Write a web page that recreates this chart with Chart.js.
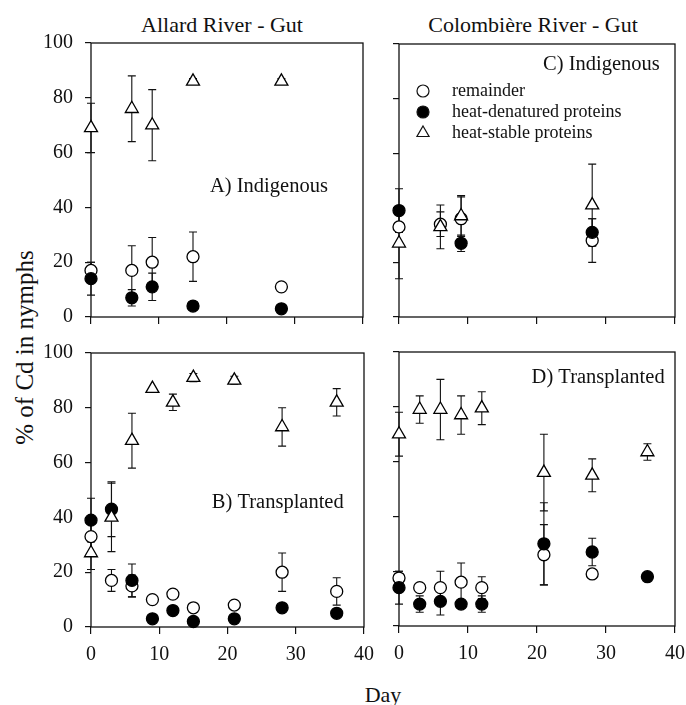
<!DOCTYPE html>
<html lang="en">

<head>
  <meta charset="UTF-8">
  <title>Cd in nymph gut</title>
  <script src="https://cdn.jsdelivr.net/npm/chart.js"></script>
  <style>
    body { margin: 0; background: #fff; overflow: hidden; }
    .page { position: relative; width: 686px; height: 705px; font-family: 'Liberation Serif', 'Times New Roman', serif; color: #111; }
    .page canvas { position: absolute; }
    .title { position: absolute; width: 300px; text-align: center; font-size: 22px; line-height: 22px; white-space: nowrap; }
    .ytitle { position: absolute; width: 300px; text-align: center; font-size: 25px; line-height: 25px; white-space: nowrap; transform: rotate(-90deg); }
  </style>
</head>

<body>
  <div class="page" id="page">
    <div class="title" style="left:72px; top:14px;">Allard River - Gut</div>
    <div class="title" style="left:383px; top:14px;">Colombière River - Gut</div>
    <div class="title" style="left:233px; top:684px;">Day</div>
    <div class="ytitle" style="left:-126px; top:335px;">% of Cd in nymphs</div>
  </div>

  <script>
    // Allard River, indigenous
    const allardIndDays = [0, 6, 9, 15, 28];
    const allardIndRemainder = [17, 17, 20, 22, 11];
    const allardIndRemainderErr = [3, 9, 9, 9, 0];
    const allardIndDenatured = [14, 7, 11, 4, 3];
    const allardIndDenaturedErr = [6, 3, 5, 0, 0];
    const allardIndStable = [69, 76, 70, 86, 86];
    const allardIndStableErr = [9, 12, 13, 1, 1];

    // Allard River, transplanted
    const allardTrDays = [0, 3, 6, 9, 12, 15, 21, 28, 36];
    const allardTrRemainder = [33, 17, 15, 10, 12, 7, 8, 20, 13];
    const allardTrRemainderErr = [6, 4, 4, 0, 0, 0, 0, 7, 5];
    const allardTrDenatured = [39, 43, 17, 3, 6, 2, 3, 7, 5];
    const allardTrDenaturedErr = [8, 10, 6, 0, 0, 0, 0, 0, 0];
    const allardTrStable = [27, 40, 68, 87, 82, 91, 90, 73, 82];
    const allardTrStableErr = [6, 12.5, 10, 0, 3, 1.5, 1.5, 7, 5];

    // Colombière River, indigenous
    const colomIndDays = [0, 6, 9, 28];
    const colomIndRemainder = [33, 34, 36, 28];
    const colomIndRemainderErr = [0, 4.5, 8, 8];
    const colomIndDenatured = [39, null, 27, 31];
    const colomIndDenaturedErr = [8, 0, 3, 5];
    const colomIndStable = [27, 33, 37, 41];
    const colomIndStableErr = [13, 8, 7.5, 15];

    // Colombière River, transplanted
    const colomTrDays = [0, 3, 6, 9, 12, 21, 28, 36];
    const colomTrRemainder = [17.5, 14, 14, 16, 14, 26, 19, null];
    const colomTrRemainderErr = [2.5, 0, 6, 7, 4, 11, 0, 0];
    const colomTrDenatured = [14, 8, 9, 8, 8, 30, 27, 18];
    const colomTrDenaturedErr = [6, 3, 5, 0, 3, 15, 5, 0];
    const colomTrStable = [70, 79, 79, 77, 79.5, 56, 55, 63.5];
    const colomTrStableErr = [8, 5, 11, 7, 6, 14, 6, 3];

    const legendLabels = ['remainder', 'heat-denatured proteins', 'heat-stable proteins'];

    const FONT = '"Liberation Serif", "Times New Roman", serif';
    const INK = '#111';
    Chart.defaults.font.family = FONT;
    Chart.defaults.font.size = 20;
    Chart.defaults.color = INK;

    function drawMarker(ctx, style, fill, r, x, y) {
      ctx.beginPath();
      if (style === 'triangle') {
        ctx.moveTo(x, y - r);
        ctx.lineTo(x + r * Math.sin(Math.PI / 3), y + r / 2);
        ctx.lineTo(x - r * Math.sin(Math.PI / 3), y + r / 2);
        ctx.closePath();
      } else {
        ctx.arc(x, y, r, 0, Math.PI * 2);
      }
      ctx.fillStyle = fill;
      ctx.fill();
      ctx.stroke();
    }

    // frame, error bars, panel label and legend
    const panelDecor = {
      id: 'panelDecor',
      beforeDatasetsDraw(chart, args, opts) {
        const { ctx, chartArea: a, scales: { x, y } } = chart;
        ctx.save();
        ctx.strokeStyle = INK;
        ctx.lineWidth = 1.3;
        ctx.strokeRect(a.left, a.top, a.right - a.left, a.bottom - a.top);

        ctx.lineWidth = 1.1;
        chart.data.datasets.forEach(ds => {
          ds.data.forEach((p, i) => {
            const e = ds.errors[i];
            if (p.y == null || !e) return;
            const px = x.getPixelForValue(p.x);
            const top = y.getPixelForValue(p.y + e);
            const bot = y.getPixelForValue(p.y - e);
            ctx.beginPath();
            ctx.moveTo(px, top); ctx.lineTo(px, bot);
            ctx.moveTo(px - 4, top); ctx.lineTo(px + 4, top);
            ctx.moveTo(px - 4, bot); ctx.lineTo(px + 4, bot);
            ctx.stroke();
          });
        });

        ctx.fillStyle = INK;
        ctx.font = '20.5px ' + FONT;
        ctx.textAlign = opts.align;
        ctx.textBaseline = 'alphabetic';
        ctx.fillText(opts.label, x.getPixelForValue(opts.at[0]), y.getPixelForValue(opts.at[1]));

        if (opts.legend) {
          const styles = [['circle', '#fff', 6], ['circle', '#000', 6], ['triangle', '#fff', 7]];
          ctx.font = '18px ' + FONT;
          ctx.textAlign = 'left';
          ctx.textBaseline = 'middle';
          ctx.lineWidth = 1.2;
          legendLabels.forEach((txt, i) => {
            const ry = a.top + 47 + i * 21;
            drawMarker(ctx, styles[i][0], styles[i][1], styles[i][2], a.left + 24, ry);
            ctx.fillStyle = INK;
            ctx.fillText(txt, a.left + 53, ry);
          });
        }
        ctx.restore();
      }
    };

    function series(days, values, errors, style, fill, radius) {
      return {
        data: days.map((d, i) => ({ x: d, y: values[i] })),
        errors: errors,
        pointStyle: style,
        pointRadius: radius,
        pointBackgroundColor: fill,
        pointBorderColor: '#000',
        pointBorderWidth: 1.3,
        clip: false
      };
    }

    function createPanel(p) {
      const [l, t, r, b] = p.area;
      const yW = p.yLabels ? 91 : 14;
      const xH = p.xLabels ? 44 : 12;
      // generous padding so tick labels never push the plot area inward
      const pad = { top: 32, right: 30, bottom: 24, left: 8 };

      const canvas = document.createElement('canvas');
      const w = pad.left + yW + (r - l) + pad.right;
      const h = pad.top + (b - t) + xH + pad.bottom;
      canvas.width = w;
      canvas.height = h;
      canvas.style.left = (l - yW - pad.left) + 'px';
      canvas.style.top = (t - pad.top) + 'px';
      canvas.style.width = w + 'px';
      canvas.style.height = h + 'px';
      document.getElementById('page').appendChild(canvas);

      new Chart(canvas, {
        type: 'scatter',
        data: {
          datasets: [
            series(p.days, p.stable, p.stableErr, 'triangle', '#fff', 7.5),
            series(p.days, p.denatured, p.denaturedErr, 'circle', '#000', 6),
            series(p.days, p.remainder, p.remainderErr, 'circle', '#fff', 6)
          ]
        },
        options: {
          responsive: false,
          animation: false,
          events: [],
          layout: { padding: pad },
          plugins: {
            legend: { display: false },
            tooltip: { enabled: false },
            panelDecor: { label: p.label, at: p.labelAt, align: p.align, legend: p.legend }
          },
          scales: {
            x: {
              type: 'linear', min: 0, max: 40,
              ticks: { stepSize: 10, display: p.xLabels, padding: 9 },
              grid: { drawOnChartArea: false, tickLength: 7, color: INK, lineWidth: 1.2 },
              border: { display: false },
              afterFit(s) { s.height = xH; }
            },
            y: {
              min: 0, max: 100,
              ticks: { stepSize: 20, display: p.yLabels, padding: 12 },
              grid: { drawOnChartArea: false, tickLength: 6, color: INK, lineWidth: 1.2 },
              border: { display: false },
              afterFit(s) { s.width = yW; }
            }
          }
        },
        plugins: [panelDecor]
      });
    }

    createPanel({
      area: [91, 43, 363, 317], yLabels: true, xLabels: false,
      label: 'A) Indigenous', labelAt: [17.5, 45.6], align: 'left', legend: false,
      days: allardIndDays,
      remainder: allardIndRemainder, remainderErr: allardIndRemainderErr,
      denatured: allardIndDenatured, denaturedErr: allardIndDenaturedErr,
      stable: allardIndStable, stableErr: allardIndStableErr
    });
    createPanel({
      area: [91, 353, 364, 627], yLabels: true, xLabels: true,
      label: 'B) Transplanted', labelAt: [17.7, 43.4], align: 'left', legend: false,
      days: allardTrDays,
      remainder: allardTrRemainder, remainderErr: allardTrRemainderErr,
      denatured: allardTrDenatured, denaturedErr: allardTrDenaturedErr,
      stable: allardTrStable, stableErr: allardTrStableErr
    });
    createPanel({
      area: [399, 44, 675, 317], yLabels: false, xLabels: false,
      label: 'C) Indigenous', labelAt: [37.8, 90.5], align: 'right', legend: true,
      days: colomIndDays,
      remainder: colomIndRemainder, remainderErr: colomIndRemainderErr,
      denatured: colomIndDenatured, denaturedErr: colomIndDenaturedErr,
      stable: colomIndStable, stableErr: colomIndStableErr
    });
    createPanel({
      area: [399, 352, 675, 626], yLabels: false, xLabels: true,
      label: 'D) Transplanted', labelAt: [38.5, 88.7], align: 'right', legend: false,
      days: colomTrDays,
      remainder: colomTrRemainder, remainderErr: colomTrRemainderErr,
      denatured: colomTrDenatured, denaturedErr: colomTrDenaturedErr,
      stable: colomTrStable, stableErr: colomTrStableErr
    });
  </script>
</body>

</html>
